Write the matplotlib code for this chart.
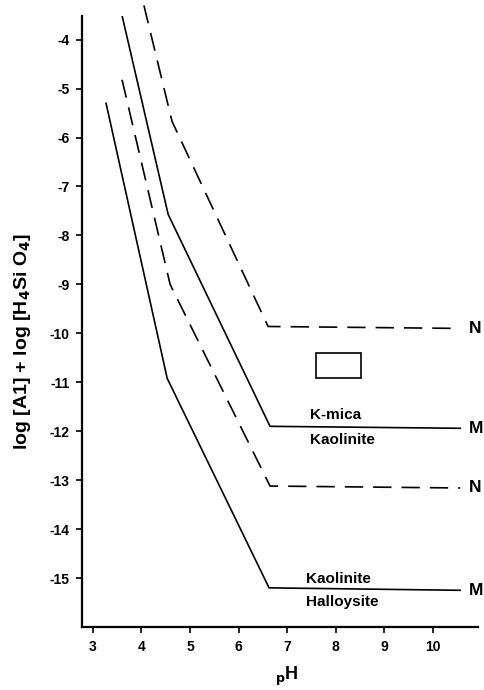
import matplotlib
matplotlib.use("Agg")
import matplotlib.pyplot as plt
from matplotlib.patches import Rectangle

plt.rcParams['font.family'] = ['Liberation Sans', 'DejaVu Sans']
plt.rcParams['axes.unicode_minus'] = False

# lignes du diagramme (pH, log [Al] + log [H4SiO4])
ph_n_haut = [4.05, 4.63, 6.61, 10.57]
val_n_haut = [-3.3, -5.67, -9.86, -9.9]

ph_m_haut = [3.6, 4.55, 6.65, 10.57]
val_m_haut = [-3.51, -7.57, -11.9, -11.94]

ph_n_bas = [3.6, 4.59, 6.65, 10.57]
val_n_bas = [-4.82, -9.0, -13.12, -13.16]

ph_m_bas = [3.27, 4.53, 6.63, 10.57]
val_m_bas = [-5.3, -10.92, -15.2, -15.25]

# zone des eaux mesurées
rect_ph = [7.6, 8.53]
rect_val = [-10.92, -10.41]

yticks = [-4, -5, -6, -7, -8, -9, -10, -11, -12, -13, -14, -15]
xticks = [3, 4, 5, 6, 7, 8, 9, 10]

fig = plt.figure(figsize=(4.84, 6.9), dpi=100)
ax = fig.add_axes([0.169, 0.0913, 0.819, 0.886])

tirets = (11, 6)
ax.plot(ph_n_haut, val_n_haut, color='black', lw=1.2, dashes=tirets, clip_on=False)
ax.plot(ph_m_haut, val_m_haut, color='black', lw=1.2)
ax.plot(ph_n_bas, val_n_bas, color='black', lw=1.2, dashes=tirets)
ax.plot(ph_m_bas, val_m_bas, color='black', lw=1.2)

ax.add_patch(Rectangle((rect_ph[0], rect_val[0]), rect_ph[1] - rect_ph[0],
                       rect_val[1] - rect_val[0], fill=False, ec='black', lw=1.2))

# étiquettes
for val, lettre in [(val_n_haut[-1], 'N'), (val_m_haut[-1], 'M'),
                    (val_n_bas[-1], 'N'), (val_m_bas[-1], 'M')]:
    ax.text(10.74, val, lettre, fontsize=12.5, fontweight='bold',
            va='center', ha='left', clip_on=False)

ax.text(7.47, -11.67, 'K-mica', fontsize=11, fontweight='bold', va='center', ha='left')
ax.text(7.47, -12.18, 'Kaolinite', fontsize=11, fontweight='bold', va='center', ha='left')
ax.text(7.4, -15.02, 'Kaolinite', fontsize=11, fontweight='bold', va='center', ha='left')
ax.text(7.4, -15.49, 'Halloysite', fontsize=11, fontweight='bold', va='center', ha='left')

ax.set_xlim(2.77, 10.94)
ax.set_ylim(-16.0, -3.51)
ax.set_xticks(xticks)
ax.set_yticks(yticks)
ax.set_xticklabels([str(t) for t in xticks], fontweight='bold', fontsize=10)
ax.set_yticklabels([str(t) for t in yticks], fontweight='bold', fontsize=10)
ax.tick_params(direction='out', length=4, width=1.2, pad=5)

ax.spines['top'].set_visible(False)
ax.spines['right'].set_visible(False)
ax.spines['left'].set_linewidth(1.6)
ax.spines['bottom'].set_linewidth(1.6)

fig.text(0.047, 0.505, 'log [A1] + log [H$_\\mathbf{4}$Si O$_\\mathbf{4}$]', fontsize=14,
         fontweight='bold', rotation=90, ha='center', va='center')
fig.text(0.593, 0.003, '$_\\mathbf{p}$H', fontsize=13, fontweight='bold', ha='center', va='bottom')

fig.savefig('out.png', dpi=100)
